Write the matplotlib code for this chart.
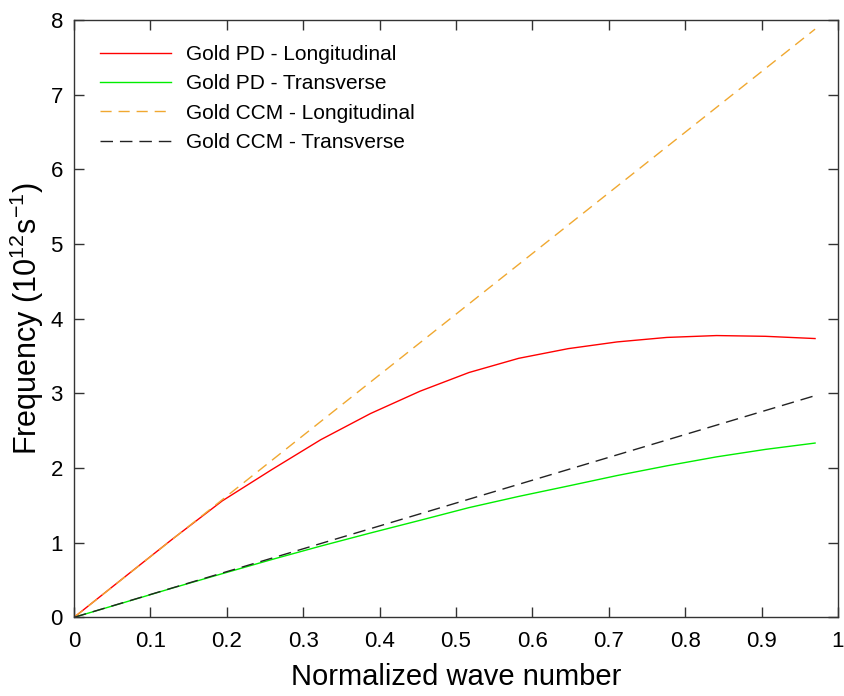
import matplotlib
matplotlib.use("Agg")
import matplotlib.pyplot as plt

k = [0, 0.065, 0.129, 0.194, 0.259, 0.323, 0.388, 0.453, 0.517, 0.582,
     0.647, 0.711, 0.776, 0.841, 0.905, 0.97]
pd_long = [0, 0.53, 1.05, 1.56, 1.98, 2.38, 2.73, 3.03, 3.28, 3.47,
           3.60, 3.69, 3.75, 3.775, 3.765, 3.735]
pd_trans = [0, 0.197, 0.393, 0.585, 0.775, 0.955, 1.13, 1.30, 1.47, 1.62,
            1.76, 1.90, 2.03, 2.15, 2.25, 2.335]
ccm_k = [0, 0.97]
ccm_long = [0, 7.88]
ccm_trans = [0, 2.97]

labels = ["Gold PD - Longitudinal", "Gold PD - Transverse",
          "Gold CCM - Longitudinal", "Gold CCM - Transverse"]
xticks = [0, 0.1, 0.2, 0.3, 0.4, 0.5, 0.6, 0.7, 0.8, 0.9, 1]
yticks = [0, 1, 2, 3, 4, 5, 6, 7, 8]

plt.rcParams['font.family'] = ['Liberation Sans', 'DejaVu Sans']
plt.rcParams['mathtext.fontset'] = 'custom'
plt.rcParams['mathtext.rm'] = 'Liberation Sans'
plt.rcParams['mathtext.it'] = 'Liberation Sans:italic'
plt.rcParams['mathtext.bf'] = 'Liberation Sans:bold'

fig = plt.figure(figsize=(8.45, 6.96), dpi=100)
ax = fig.add_axes([0.0876, 0.113, 0.9041, 0.858])

ax.plot(k, pd_long, color='#ff0000', lw=1.0, label=labels[0])
ax.plot(k, pd_trans, color='#00ee00', lw=1.0, label=labels[1])
ax.plot(ccm_k, ccm_long, color='#f0a830', lw=1.0, ls=(0, (8, 5)), label=labels[2])
ax.plot(ccm_k, ccm_trans, color='#222222', lw=1.0, ls=(0, (9, 5)), label=labels[3])

ax.set_xlim(0, 1)
ax.set_ylim(0, 8)
ax.set_xticks(xticks)
ax.set_yticks(yticks)
ax.set_xticklabels([f"{v:g}" for v in xticks], fontsize=16)
ax.set_yticklabels([f"{v:g}" for v in yticks], fontsize=16)
ax.tick_params(axis='x', pad=10)
ax.tick_params(axis='y', pad=8)
ax.tick_params(direction='in', top=True, right=True, length=7, width=1.0,
               color='#333333')
for s in ax.spines.values():
    s.set_color('#333333')
    s.set_linewidth(1.0)

ax.set_xlabel("Normalized wave number", fontsize=21, labelpad=8)
ax.set_ylabel("Frequency (10$^{12}$s$^{\\mathrm{-1}}$)", fontsize=22, labelpad=3)

ax.legend(loc='upper left', frameon=False, fontsize=15, handlelength=3.4,
          bbox_to_anchor=(0.01, 0.99), labelspacing=0.5, handletextpad=0.7)

fig.savefig("out.png", dpi=100)
